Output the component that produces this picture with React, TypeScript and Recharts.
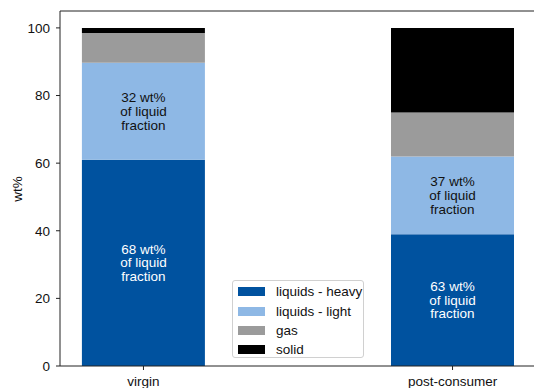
import { BarChart, Bar, XAxis, YAxis, Legend, LabelList, ReferenceLine } from 'recharts'

const categories = ['virgin', 'post-consumer']
const heavy = [61.0, 39.0]
const light = [28.7, 23.0]
const gas = [8.8, 13.0]
const solid = [1.5, 25.0]
const yTicks = [0, 20, 40, 60, 80, 100]

const COLORS = {
  heavy: '#00529f',
  light: '#8eb8e5',
  gas: '#9b9b9b',
  solid: '#000000',
}

const FONT = '"Liberation Sans", Arial, sans-serif'
const AXIS = '#222'

const data = categories.map((name, i) => {
  const liquids = heavy[i] + light[i]
  return {
    x: i,
    name,
    heavy: heavy[i],
    light: light[i],
    gas: gas[i],
    solid: solid[i],
    heavyPct: Math.round((heavy[i] / liquids) * 100),
    lightPct: Math.round((light[i] / liquids) * 100),
  }
})

// three-line "NN wt% / of liquid / fraction" label centred on a segment
const fractionLabel = (fill: string) => (props: any) => {
  const { x, y, width, height, value } = props
  const cx = Number(x) + Number(width) / 2
  const cy = Number(y) + Number(height) / 2
  const lines = [`${value} wt%`, 'of liquid', 'fraction']
  return (
    <g>
      {lines.map((t, k) => (
        <text
          key={k}
          x={cx}
          y={cy + (k - 1) * 13.8}
          textAnchor="middle"
          dominantBaseline="central"
          fill={fill}
          fontSize={13.5}
          fontFamily={FONT}
        >
          {t}
        </text>
      ))}
    </g>
  )
}

const legendItems = [
  { key: 'heavy', label: 'liquids - heavy' },
  { key: 'light', label: 'liquids - light' },
  { key: 'gas', label: 'gas' },
  { key: 'solid', label: 'solid' },
] as const

const renderLegend = () => (
  <div style={{
    width: 132, height: 78, boxSizing: 'border-box',
    border: '1px solid #d0d0d0', borderRadius: 3,
    background: 'white', padding: '1px 0 0 5px',
    fontFamily: FONT, fontSize: 13.5, color: '#111',
  }}>
    {legendItems.map(it => (
      <div key={it.key} style={{ display: 'flex', alignItems: 'center', height: 19.4 }}>
        <span style={{
          display: 'inline-block', width: 27, height: 9,
          background: COLORS[it.key], marginRight: 11,
        }} />
        <span>{it.label}</span>
      </div>
    ))}
  </div>
)

export default function App() {
  return (
    <div style={{
      position: 'absolute', left: 0, top: 0,
      width: 534, height: 388, overflow: 'hidden', background: 'white',
    }}>
      <BarChart
        width={546}
        height={388}
        data={data}
        margin={{ top: 11, right: 10, bottom: 0, left: 0 }}
        style={{ fontFamily: FONT }}
      >
        <XAxis
          type="number"
          dataKey="x"
          domain={[-0.27, 1.27]}
          ticks={[0, 1]}
          tickFormatter={(v: number) => categories[v]}
          height={22}
          tickSize={4}
          tickMargin={6}
          axisLine={{ stroke: AXIS }}
          tickLine={{ stroke: AXIS }}
          tick={{ fill: '#111', fontSize: 13.5 }}
        />
        <YAxis
          type="number"
          domain={[0, 105]}
          ticks={yTicks}
          width={60}
          tickSize={4}
          tickMargin={6}
          axisLine={{ stroke: AXIS }}
          tickLine={{ stroke: AXIS }}
          tick={{ fill: '#111', fontSize: 13.5 }}
          label={{
            content: () => (
              <text
                x={17}
                y={189}
                transform="rotate(-90 17 189)"
                textAnchor="middle"
                dominantBaseline="central"
                fill="#111"
                fontSize={13.5}
                fontFamily={FONT}
              >
                wt%
              </text>
            ),
          }}
        />
        {/* top spine */}
        <ReferenceLine y={105} stroke={AXIS} />
        <Legend
          layout="vertical"
          align="center"
          verticalAlign="middle"
          content={renderLegend}
          wrapperStyle={{ left: 232, top: 280, width: 132 }}
        />
        <Bar dataKey="heavy" stackId="a" barSize={123} fill={COLORS.heavy} isAnimationActive={false}>
          <LabelList dataKey="heavyPct" content={fractionLabel('#ffffff')} />
        </Bar>
        <Bar dataKey="light" stackId="a" barSize={123} fill={COLORS.light} isAnimationActive={false}>
          <LabelList dataKey="lightPct" content={fractionLabel('#111111')} />
        </Bar>
        <Bar dataKey="gas" stackId="a" barSize={123} fill={COLORS.gas} isAnimationActive={false} />
        <Bar dataKey="solid" stackId="a" barSize={123} fill={COLORS.solid} isAnimationActive={false} />
      </BarChart>
    </div>
  )
}
